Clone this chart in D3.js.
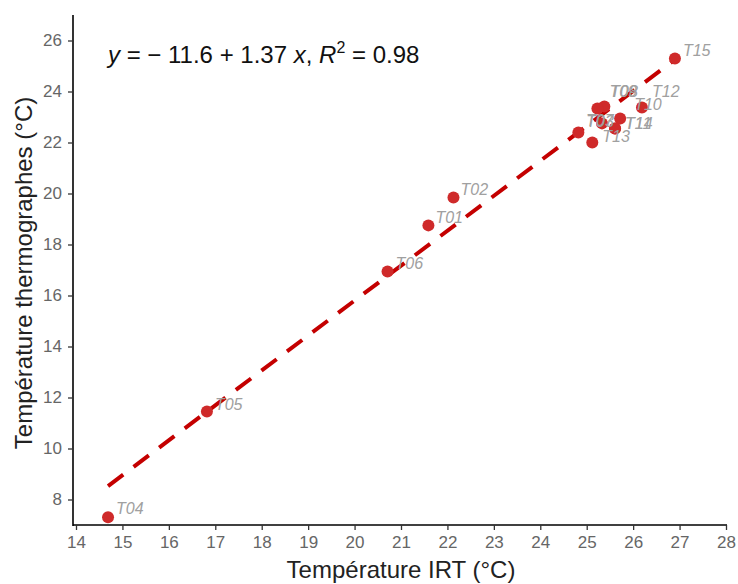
<!DOCTYPE html>
<html lang="fr">
	<head>
		<meta charset="utf-8">
		<title>IRT vs thermographes</title>
		<script type="text/javascript" src="https://cdn.jsdelivr.net/npm/d3@7"></script>
		<style type="text/css">
			body { margin: 0; background: #fff; }
			svg { font-family: "Liberation Sans", Arial, sans-serif; }
			.tick text { fill: #666; font-size: 17px; }
			.pt-label { fill: #a0a0a0; font-size: 16px; font-style: italic; }
		</style>
	</head>
	<body>
		<script type="text/javascript">

			var w = 738;
			var h = 584;

			// Data
			var sites = ["T01", "T02", "T03", "T04", "T05", "T06", "T07", "T08", "T09", "T10", "T11", "T12", "T13", "T14", "T15"];
			var irt   = [21.59, 22.13, 24.82, 14.69, 16.82, 20.71, 25.33, 25.38, 25.23, 25.72, 25.61, 26.19, 25.12, 25.61, 26.90];
			var thermo = [18.75, 19.84, 22.39, 7.30, 11.45, 16.94, 22.75, 23.41, 23.33, 22.94, 22.55, 23.37, 22.00, 22.55, 25.29];
			var xTicks = [14, 15, 16, 17, 18, 19, 20, 21, 22, 23, 24, 25, 26, 27, 28];
			var yTicks = [8, 10, 12, 14, 16, 18, 20, 22, 24, 26];
			var intercept = -11.6;
			var slope = 1.37;

			// label nudges (px), the original has a few labels stacked on each other
			var labelDx = [7, 7, 8, 8, 8, 8, -16, 6, 12, 14, 10, 10, 10, 10, 8];
			var labelDy = [-2, -3, -6, -3, -2, -3, 3, -10, -12, -9, 1, -11, -1, 1, -3];

			var margin = { left: 73, right: 12, top: 15, bottom: 59 };

			var svg = d3.select("body")
				.append("svg")
				.attr("width", w)
				.attr("height", h);

			var x = d3.scaleLinear()
				.domain([14, 28])
				.range([76, 726]);

			var y = d3.scaleLinear()
				.domain([7, 27])
				.range([h - margin.bottom, margin.top]);

			// axes
			var xAxis = svg.append("g")
				.attr("transform", "translate(0," + (h - margin.bottom) + ")")
				.call(d3.axisBottom(x).tickValues(xTicks).tickFormat(d3.format("d")).tickSize(5).tickPadding(6));
			xAxis.select(".domain").attr("d", "M" + margin.left + ",0H727").attr("stroke", "#000").attr("stroke-width", 1.6);
			xAxis.selectAll(".tick line").attr("stroke", "#333").attr("stroke-width", 1.3);

			var yAxis = svg.append("g")
				.attr("transform", "translate(" + margin.left + ",0)")
				.call(d3.axisLeft(y).tickValues(yTicks).tickFormat(d3.format("d")).tickSize(5).tickPadding(6));
			yAxis.select(".domain").attr("d", "M0," + margin.top + "V" + (h - margin.bottom + 1)).attr("stroke", "#000").attr("stroke-width", 1.6);
			yAxis.selectAll(".tick line").attr("stroke", "#333").attr("stroke-width", 1.3);

			// fitted line
			var xMin = d3.min(irt), xMax = d3.max(irt);
			svg.append("line")
				.attr("x1", x(xMin))
				.attr("y1", y(intercept + slope * xMin))
				.attr("x2", x(xMax))
				.attr("y2", y(intercept + slope * xMax))
				.attr("stroke", "#c40000")
				.attr("stroke-width", 4)
				.attr("stroke-dasharray", "19,13");

			// points
			svg.selectAll("circle")
				.data(sites)
				.enter()
				.append("circle")
				.attr("cx", function(d, i) { return x(irt[i]); })
				.attr("cy", function(d, i) { return y(thermo[i]); })
				.attr("r", 6)
				.attr("fill", "#cf2a2a");

			// labels
			svg.selectAll("text.pt-label")
				.data(sites)
				.enter()
				.append("text")
				.attr("class", "pt-label")
				.attr("x", function(d, i) { return x(irt[i]) + labelDx[i]; })
				.attr("y", function(d, i) { return y(thermo[i]) + labelDy[i]; })
				.text(function(d) { return d; });

			// equation
			var eq = svg.append("text")
				.attr("x", 108)
				.attr("y", 63)
				.attr("font-size", 24)
				.attr("fill", "#111");
			eq.append("tspan").attr("font-style", "italic").text("y");
			eq.append("tspan").text(" = \u2212 11.6 + 1.37 ");
			eq.append("tspan").attr("font-style", "italic").text("x");
			eq.append("tspan").text(", ");
			eq.append("tspan").attr("font-style", "italic").text("R");
			eq.append("tspan").attr("font-size", 16).attr("dy", -10).text("2");
			eq.append("tspan").attr("dy", 10).text(" = 0.98");

			// axis titles
			svg.append("text")
				.attr("x", 401)
				.attr("y", 578)
				.attr("text-anchor", "middle")
				.attr("font-size", 24)
				.attr("fill", "#222")
				.text("Température IRT (°C)");

			svg.append("text")
				.attr("transform", "translate(32,273) rotate(-90)")
				.attr("text-anchor", "middle")
				.attr("font-size", 24)
				.attr("fill", "#222")
				.text("Température thermographes (°C)");

		</script>
	</body>
</html>
